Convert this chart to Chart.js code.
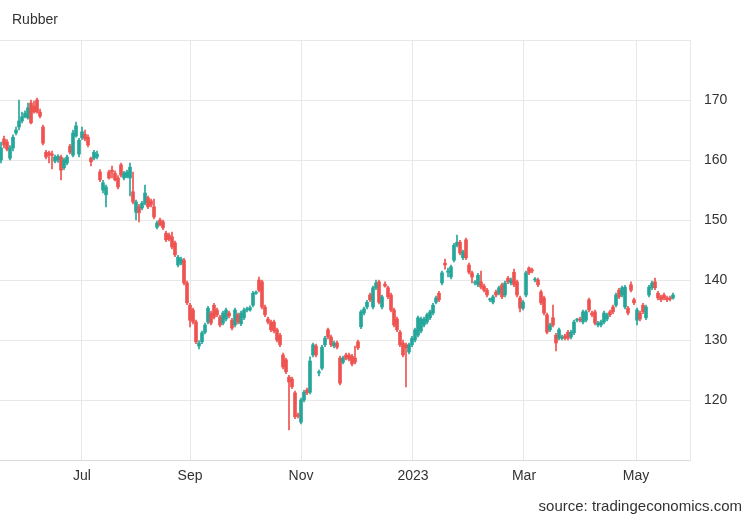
<!DOCTYPE html>
<html>
<head>
<meta charset="utf-8">
<script src="https://cdn.jsdelivr.net/npm/chart.js@4"></script>
<style>
  body { margin: 0; background: #fff; }
  #wrap { position: relative; width: 750px; height: 520px; font-family: "Liberation Sans", Arial, sans-serif; }
  #title { position: absolute; left: 12px; top: 11px; font-size: 14px; color: #333; }
  #source { position: absolute; right: 8px; top: 497px; font-size: 15px; color: #333; }
  canvas { position: absolute; left: 0; top: 0; }
</style>
</head>
<body>
<div id="wrap">
  <canvas id="chart" width="750" height="520"></canvas>
  <div id="title">Rubber</div>
  <div id="source">source: tradingeconomics.com</div>
</div>
<script>
// daily candles, mid-May 2022 to mid-May 2023
const open = [
  160.0,163.5,163.0,160.3,162.0,164.5,165.5,166.5,167.2,167.0,169.5,169.0,170.0,168.0,165.5,
  161.3,161.2,161.0,159.8,160.0,160.5,158.7,159.5,162.3,160.8,164.0,161.0,163.7,164.3,163.8,
  160.3,160.3,160.5,158.0,155.0,154.2,158.0,158.3,157.8,157.0,159.2,157.0,157.2,157.0,154.7,
  151.3,152.2,152.0,152.8,153.7,153.2,152.2,148.8,150.0,149.7,147.8,147.5,147.2,146.2,142.5,
  142.8,143.3,139.5,135.8,135.0,133.0,129.0,129.7,131.3,133.0,134.5,135.8,135.0,133.8,132.8,
  133.5,134.5,133.3,132.5,134.2,132.7,133.7,135.0,135.0,135.8,137.8,140.0,139.7,135.5,133.5,
  133.0,133.0,131.7,130.8,127.5,126.7,123.8,123.5,121.2,117.5,116.3,120.0,121.7,121.3,127.5,
  129.0,124.5,125.3,129.2,131.7,130.5,129.0,129.5,127.0,126.3,127.5,127.5,127.3,127.0,129.7,
  132.2,134.5,135.5,137.5,135.5,138.7,139.7,135.5,139.3,138.7,137.5,135.0,133.5,131.3,129.5,
  129.2,128.0,129.2,130.0,130.8,131.5,132.5,133.0,133.7,134.5,136.3,137.8,139.5,142.8,141.3,
  140.5,143.3,145.8,146.3,143.7,146.7,142.5,141.2,139.5,139.2,139.7,139.0,138.3,136.7,136.3,
  138.0,137.8,139.2,137.5,140.3,139.5,141.3,139.7,137.0,135.3,137.5,142.0,141.7,140.0,140.0,
  138.0,137.0,134.2,131.7,133.7,130.8,130.3,130.3,130.7,131.3,130.5,131.2,133.3,133.5,133.0,
  133.3,136.7,134.5,134.7,132.5,132.5,133.0,133.5,134.7,135.5,135.8,138.3,137.5,135.5,135.3,
  139.2,136.7,133.3,134.5,135.8,133.7,137.5,138.7,139.7,137.8,137.2,137.5,137.0,137.0,137.0
];
const high = [
  163.0,164.0,163.4,162.4,164.2,165.5,170.0,168.0,168.2,169.5,170.0,169.8,170.3,168.5,165.8,
  161.6,161.5,161.5,160.8,160.9,160.8,160.3,160.8,162.6,165.0,166.3,163.6,165.5,165.0,164.2,
  160.5,161.6,161.5,158.4,156.6,155.8,158.3,159.0,158.2,157.4,159.5,158.1,158.3,159.5,158.0,
  153.3,152.6,153.1,155.8,154.0,153.5,153.5,149.8,150.3,150.0,148.1,147.8,148.0,146.5,144.1,
  143.8,143.6,139.8,136.1,135.3,133.3,129.9,131.5,132.8,135.6,134.8,136.1,135.3,134.1,134.8,
  135.3,134.8,133.6,135.3,134.5,134.8,135.3,135.5,135.7,138.1,138.2,140.5,140.0,135.8,133.8,
  133.3,133.3,132.0,131.1,127.8,127.0,124.1,123.8,121.5,117.8,120.3,121.6,122.0,127.2,129.5,
  129.3,125.0,129.1,130.6,132.0,130.8,129.8,129.8,127.3,127.3,127.8,127.8,127.6,129.0,130.0,
  135.0,135.5,136.6,137.8,139.0,140.0,140.0,137.5,139.7,139.0,137.8,135.3,133.8,131.6,130.0,
  129.5,129.5,130.6,132.0,134.0,133.8,133.8,134.5,135.0,136.1,137.3,138.1,141.5,143.5,142.0,
  142.5,146.1,147.5,146.6,145.0,147.0,142.8,141.5,139.9,141.1,141.5,139.3,138.6,137.0,137.5,
  138.3,139.0,139.5,139.8,140.6,140.3,141.8,140.0,137.3,136.6,141.5,142.2,142.0,140.4,140.3,
  138.3,137.3,134.5,132.8,135.8,131.1,132.0,130.8,131.0,131.6,131.6,133.3,133.6,133.8,135.0,
  135.0,137.0,134.8,135.0,133.1,133.3,134.8,134.5,135.0,135.8,137.8,138.6,139.0,139.1,135.6,
  139.7,137.0,135.3,134.8,136.1,135.8,139.1,139.8,140.3,138.1,137.5,137.8,137.3,137.3,137.8
];
const low = [
  159.5,162.0,161.5,160.0,161.5,164.2,165.0,166.2,167.0,166.8,166.0,167.8,167.8,167.0,162.5,
  160.2,159.5,158.5,159.5,159.6,156.7,158.4,159.2,161.0,160.5,163.8,160.5,163.4,163.2,162.2,
  159.0,160.0,160.2,156.4,154.5,152.2,156.8,157.0,156.5,155.2,157.2,156.7,157.0,154.0,152.7,
  150.0,149.7,151.7,152.5,151.9,152.2,150.2,148.5,149.0,148.4,146.4,146.5,145.2,143.9,142.2,
  142.5,139.2,135.9,132.2,132.7,129.4,128.5,129.4,131.0,132.7,132.5,133.5,133.9,132.2,132.5,
  133.2,133.7,131.7,132.2,132.7,132.4,133.4,134.7,134.8,135.5,137.6,138.0,135.2,133.9,132.7,
  131.4,131.2,129.7,128.9,125.2,124.4,115.0,121.9,116.9,117.0,116.0,119.7,120.9,121.0,127.2,
  127.2,124.0,125.0,128.9,130.2,128.9,128.7,128.5,122.5,126.0,126.7,126.5,125.7,126.0,128.4,
  131.9,134.2,135.2,136.4,135.2,138.4,136.0,135.2,138.8,136.9,134.7,132.2,131.4,128.9,127.2,
  122.2,127.7,128.9,129.7,130.5,131.2,132.2,132.7,133.4,134.2,136.0,136.4,139.2,141.8,140.5,
  140.2,143.0,145.5,144.2,143.4,143.4,141.0,139.5,139.2,138.9,138.5,138.0,137.2,136.4,136.0,
  137.2,137.5,136.9,137.2,139.4,139.2,138.9,137.2,134.7,135.0,137.2,140.9,141.2,139.7,138.9,
  135.9,134.2,131.0,131.4,132.2,128.2,130.0,130.0,130.0,130.0,130.2,130.9,133.0,133.0,132.7,
  133.0,134.7,133.9,132.5,132.2,132.2,132.7,133.2,133.9,134.4,135.5,136.9,137.2,135.2,134.2,
  138.0,135.9,132.5,133.2,134.4,133.4,137.2,138.4,138.4,136.7,136.4,136.7,136.4,136.5,136.8
];
const close = [
  162.0,162.5,161.8,162.0,163.8,165.0,166.5,167.2,167.8,168.7,166.2,168.0,168.0,167.3,162.8,
  160.5,160.8,160.8,160.5,160.6,158.3,160.0,160.5,161.3,164.5,165.7,163.3,164.7,163.5,162.5,
  159.7,161.3,161.0,156.7,156.2,155.5,157.0,158.0,156.7,155.5,157.5,157.8,158.0,158.8,153.0,
  153.0,151.2,152.8,154.5,152.2,152.5,150.5,149.5,149.2,148.7,146.7,146.8,145.5,144.2,143.8,
  143.5,139.5,136.2,133.3,133.0,129.7,129.5,131.2,132.5,135.3,132.8,133.8,134.2,132.5,134.5,
  135.0,134.0,132.0,135.0,133.0,134.5,135.0,135.2,135.4,137.8,137.9,138.3,135.5,134.2,133.0,
  131.7,131.5,130.0,129.2,125.5,124.7,123.0,122.2,117.2,117.3,120.0,121.3,121.2,126.5,129.2,
  127.5,124.7,128.8,130.3,130.5,129.2,129.5,128.8,122.8,127.0,127.0,126.8,126.0,126.3,128.7,
  134.7,135.2,136.3,136.7,138.7,139.5,136.3,137.2,139.0,137.2,135.0,132.5,131.7,129.2,127.5,
  128.7,129.2,130.3,131.7,133.7,133.5,133.5,134.2,134.7,135.8,137.0,136.7,141.2,142.5,141.5,
  142.2,145.8,146.3,144.5,144.7,143.7,141.3,140.5,139.6,140.8,138.8,138.3,137.5,136.8,137.2,
  137.5,138.7,137.2,139.5,139.7,140.0,139.2,137.5,135.3,136.3,141.2,141.2,141.5,140.1,139.2,
  136.2,134.5,131.3,132.5,132.5,129.5,131.7,130.5,130.3,130.3,131.3,133.0,133.4,133.3,134.7,
  134.7,135.0,134.2,132.8,132.8,133.0,134.5,134.2,134.2,134.7,137.5,137.2,138.7,138.8,134.5,
  138.3,136.2,135.0,133.5,134.7,135.5,138.8,139.5,138.7,137.0,136.7,137.0,136.7,136.8,137.5
];
// month labels sit at these candle positions
const tickPos = [27, 63, 100, 137.33, 174.33, 211.67];
const tickLabels = ['Jul', 'Sep', 'Nov', '2023', 'Mar', 'May'];

const upColor = '#26a69a';
const downColor = '#ef5350';
const gridColor = '#e8e8e8';

Chart.defaults.font.family = '"Liberation Sans", Arial, sans-serif';
Chart.defaults.color = '#333';

const colors = close.map((c, i) => c >= open[i] ? upColor : downColor);
const wicks = high.map((h, i) => ({ x: i, y: [low[i], h] }));
const bodies = open.map((o, i) => ({ x: i, y: [o, close[i]] }));

new Chart(document.getElementById('chart'), {
  type: 'bar',
  data: {
    datasets: [
      { data: wicks, backgroundColor: colors, barThickness: 1, grouped: false },
      { data: bodies, backgroundColor: colors, barThickness: 3, minBarLength: 1, grouped: false }
    ]
  },
  options: {
    responsive: false,
    animation: false,
    layout: { padding: { top: 40, left: 0, right: 0, bottom: 0 } },
    plugins: { legend: { display: false }, tooltip: { enabled: false } },
    scales: {
      x: {
        type: 'linear',
        min: -1 / 3,
        max: 230 - 1 / 3,
        offset: false,
        grid: { color: gridColor, drawTicks: false, offset: false },
        border: { color: '#dcdcdc' },
        afterBuildTicks: scale => { scale.ticks = tickPos.map(v => ({ value: v })); },
        afterFit: scale => { scale.height = 60; },
        ticks: {
          autoSkip: false,
          maxRotation: 0,
          padding: 8,
          font: { size: 14 },
          callback: (v, idx) => tickLabels[idx]
        }
      },
      y: {
        position: 'right',
        min: 110,
        max: 180,
        grid: { color: gridColor, drawTicks: false },
        border: { color: gridColor },
        afterFit: scale => { scale.width = 60; },
        ticks: {
          stepSize: 10,
          padding: 14,
          font: { size: 14 },
          callback: v => (v === 110 || v === 180) ? '' : v
        }
      }
    }
  }
});
</script>
</body>
</html>
